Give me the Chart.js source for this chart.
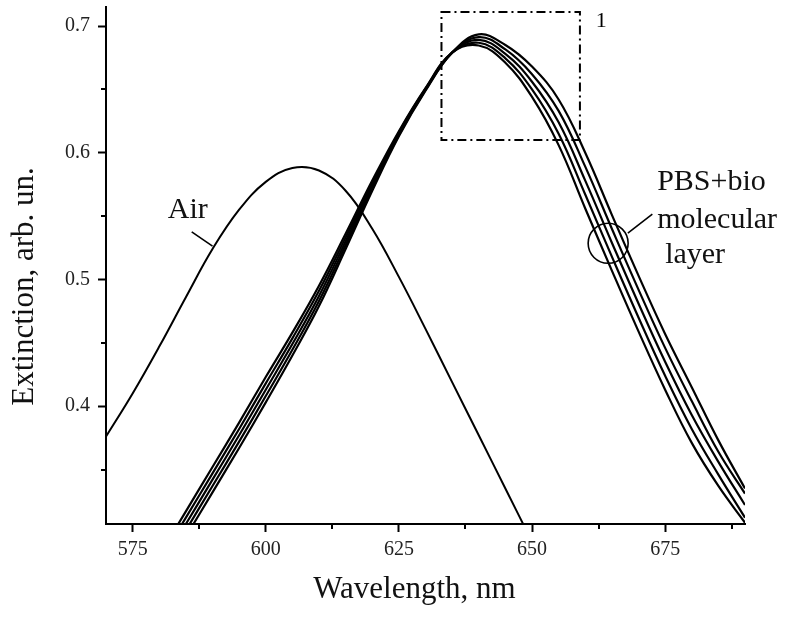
<!DOCTYPE html>
<html>
<head>
<meta charset="utf-8">
<script src="https://cdn.jsdelivr.net/npm/chart.js@4/dist/chart.umd.min.js"></script>
<style>
  html, body { margin: 0; padding: 0; background: #ffffff; }
  #wrap { width: 787px; height: 617px; }
</style>
</head>
<body>
<div id="wrap"><canvas id="chart" width="787" height="617"></canvas></div>
<script>
// Wavelength grid (nm) shared by all spectra
const wavelengthNm = [570, 575, 580, 585, 590, 595, 600, 605, 610, 615, 620, 625, 630,
                      635, 640, 645, 650, 655, 660, 665, 670, 675, 680, 685, 690];

// Extinction spectrum in air
const airExt = [0.376, 0.410, 0.447, 0.486, 0.524, 0.555, 0.577, 0.588, 0.586, 0.570, 0.540, 0.502, 0.461,
                0.419, 0.377, 0.335, 0.293, null, null, null, null, null, null, null, null];

// Extinction spectra in PBS with growing biomolecular layer
const pbsExt1 = [null, null, 0.282, 0.317, 0.352, 0.387, 0.423, 0.458, 0.495, 0.536, 0.578, 0.617, 0.651,
                 0.679, 0.6846, 0.671, 0.644, 0.606, 0.556, 0.507, 0.459, 0.413, 0.371, 0.337, 0.308];
const pbsExt2 = [null, null, 0.277, 0.312, 0.347, 0.382, 0.418, 0.4535, 0.491, 0.533, 0.576, 0.616, 0.6505,
                 0.679, 0.6868, 0.6745, 0.650, 0.615, 0.567, 0.518, 0.470, 0.424, 0.382, 0.346, 0.312];
const pbsExt3 = [null, null, 0.272, 0.307, 0.342, 0.377, 0.413, 0.449, 0.487, 0.530, 0.574, 0.615, 0.650,
                 0.679, 0.689, 0.678, 0.656, 0.624, 0.578, 0.529, 0.481, 0.435, 0.393, 0.356, 0.322];
const pbsExt4 = [null, null, 0.267, 0.302, 0.337, 0.372, 0.408, 0.4445, 0.483, 0.527, 0.572, 0.614, 0.6495,
                 0.679, 0.6912, 0.6815, 0.662, 0.633, 0.589, 0.540, 0.492, 0.446, 0.404, 0.364, 0.331];
const pbsExt5 = [null, null, 0.262, 0.297, 0.332, 0.367, 0.403, 0.440, 0.479, 0.524, 0.570, 0.613, 0.649,
                 0.679, 0.6934, 0.685, 0.668, 0.642, 0.600, 0.551, 0.503, 0.457, 0.415, 0.373, 0.335];

// Axis ticks
const xMajorTicks = [575, 600, 625, 650, 675];
const xMinorTicks = [587.5, 612.5, 637.5, 662.5, 687.5];
const yMajorTicks = [0.4, 0.5, 0.6, 0.7];
const yMinorTicks = [0.35, 0.45, 0.55, 0.65];

const SERIF = '"Liberation Serif", "Times New Roman", serif';
const INK = '#000000';

const toPoints = vals => wavelengthNm.map((x, i) => ({ x: x, y: vals[i] }));

const spectra = [airExt, pbsExt1, pbsExt2, pbsExt3, pbsExt4, pbsExt5];

// Annotations placed in data coordinates
const notes = {
  zoomBox: { x0: 633, x1: 659, y0: 0.610, y1: 0.711, label: '1', labelX: 663.0, labelY: 0.6992 },
  ring: { x: 664.3, y: 0.5285, r: 20 },
  ringLeader: { x0: 668.0, y0: 0.5366, x1: 672.6, y1: 0.5516 },
  pbsText: [
    { text: 'PBS+bio', x: 673.5, y: 0.5705 },
    { text: 'molecular', x: 673.5, y: 0.5405 },
    { text: 'layer', x: 675.0, y: 0.5129 }
  ],
  airText: { text: 'Air', x: 581.6, y: 0.5484 },
  airLeader: { x0: 586.1, y0: 0.5376, x1: 590.0, y1: 0.5263 },
  xTitle: { text: 'Wavelength, nm', cx: 414.5, baseline: 598 },
  yTitle: { text: 'Extinction, arb. un.', baselineX: 33, cy: 286.5 }
};

const decorations = {
  id: 'decorations',
  afterDatasetsDraw(chart) {
    const { ctx, scales: { x, y }, chartArea } = chart;
    const px = v => x.getPixelForValue(v);
    const py = v => y.getPixelForValue(v);
    ctx.save();
    ctx.strokeStyle = INK;
    ctx.fillStyle = INK;

    // minor ticks
    ctx.lineWidth = 2;
    ctx.beginPath();
    xMinorTicks.forEach(v => {
      const p = Math.round(px(v));
      ctx.moveTo(p, chartArea.bottom);
      ctx.lineTo(p, chartArea.bottom + 5);
    });
    yMinorTicks.forEach(v => {
      const p = Math.round(py(v));
      ctx.moveTo(chartArea.left, p);
      ctx.lineTo(chartArea.left - 5, p);
    });
    ctx.stroke();

    // dash-dot frame around the peak region
    const b = notes.zoomBox;
    ctx.lineWidth = 2;
    ctx.setLineDash([9, 4, 2, 4]);
    ctx.strokeRect(px(b.x0), py(b.y1), px(b.x1) - px(b.x0), py(b.y0) - py(b.y1));
    ctx.setLineDash([]);
    ctx.font = '22px ' + SERIF;
    ctx.textAlign = 'center';
    ctx.textBaseline = 'alphabetic';
    ctx.fillText(b.label, px(b.labelX), py(b.labelY));

    // ring marking the PBS bundle
    const r = notes.ring;
    ctx.lineWidth = 1.6;
    ctx.beginPath();
    ctx.arc(px(r.x), py(r.y), r.r, 0, Math.PI * 2);
    ctx.stroke();
    const rl = notes.ringLeader;
    ctx.beginPath();
    ctx.moveTo(px(rl.x0), py(rl.y0));
    ctx.lineTo(px(rl.x1), py(rl.y1));
    ctx.stroke();

    const al = notes.airLeader;
    ctx.beginPath();
    ctx.moveTo(px(al.x0), py(al.y0));
    ctx.lineTo(px(al.x1), py(al.y1));
    ctx.stroke();

    // curve labels
    ctx.font = '30px ' + SERIF;
    ctx.textAlign = 'left';
    ctx.fillStyle = '#111111';
    notes.pbsText.forEach(t => ctx.fillText(t.text, px(t.x), py(t.y)));
    ctx.fillText(notes.airText.text, px(notes.airText.x), py(notes.airText.y));

    // axis titles
    ctx.font = '31px ' + SERIF;
    ctx.textAlign = 'center';
    ctx.fillText(notes.xTitle.text, notes.xTitle.cx, notes.xTitle.baseline);
    ctx.save();
    ctx.translate(notes.yTitle.baselineX, notes.yTitle.cy);
    ctx.rotate(-Math.PI / 2);
    ctx.fillText(notes.yTitle.text, 0, 0);
    ctx.restore();

    ctx.restore();
  }
};

new Chart(document.getElementById('chart'), {
  type: 'line',
  data: {
    datasets: spectra.map((vals, i) => ({
      data: toPoints(vals),
      borderColor: INK,
      borderWidth: i === 0 ? 2 : 2.2,
      pointRadius: 0,
      fill: false,
      spanGaps: false,
      tension: 0.4
    }))
  },
  options: {
    responsive: false,
    animation: false,
    devicePixelRatio: 1,
    layout: { padding: { top: 7, right: 42, left: 0, bottom: 0 } },
    plugins: { legend: { display: false }, tooltip: { enabled: false } },
    scales: {
      x: {
        type: 'linear',
        min: 570,
        max: 690,
        afterBuildTicks: s => { s.ticks = xMajorTicks.map(v => ({ value: v })); },
        afterFit: s => { s.height = 93; s.paddingLeft = 0; s.paddingRight = 0; },
        grid: { display: true, drawOnChartArea: false, drawTicks: true, tickLength: 8, tickWidth: 2, color: INK },
        border: { display: true, color: INK, width: 2 },
        ticks: { font: { family: SERIF, size: 20 }, color: '#222222', padding: 6, maxRotation: 0 }
      },
      y: {
        type: 'linear',
        min: 0.307,
        max: 0.715,
        afterBuildTicks: s => { s.ticks = yMajorTicks.map(v => ({ value: v })); },
        afterFit: s => { s.width = 106; s.paddingTop = 0; s.paddingBottom = 0; },
        grid: { display: true, drawOnChartArea: false, drawTicks: true, tickLength: 8, tickWidth: 2, color: INK },
        border: { display: true, color: INK, width: 2 },
        ticks: { font: { family: SERIF, size: 20 }, color: '#222222', padding: 8, callback: v => v.toFixed(1) }
      }
    }
  },
  plugins: [decorations]
});
</script>
</body>
</html>
